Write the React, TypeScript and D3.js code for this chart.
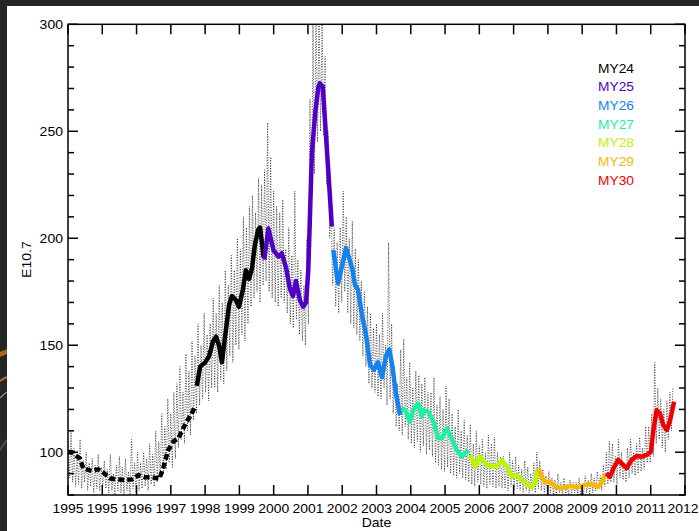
import React from "react";
import * as d3 from "d3";

const W = 699;
const H = 531;

// ---- axes ----
const xDomain = [1995, 2012];
const yDomain = [80, 300];
const xTickLabels = ["1995", "1995", "1996", "1997", "1998", "1999", "2000", "2001", "2002", "2003", "2004", "2005", "2006", "2007", "2008", "2009", "2010", "2011", "2012"];
const yMajorTicks = [100, 150, 200, 250, 300];
const yMinorStep = 10;

// ---- daily E10.7 (dotted), sampled every half month from 1995.0 ----
const dailyStart = 1995.0;
const dailyStep = 1 / 24;
const dailyFlux = [
  104, 88, 110, 86, 102, 84, 98, 85, 106, 83, 96, 86, 100, 82, 95, 84, 97, 81, 94, 83, 99, 82, 93, 84,
  96, 83, 92, 81, 99, 82, 90, 80, 94, 82, 98, 81, 93, 80, 97, 82, 91, 80, 106, 83, 95, 81, 100, 82,
  95, 83, 100, 84, 97, 82, 104, 85, 99, 84, 110, 86, 105, 88, 118, 90, 112, 92, 125, 95, 118, 93, 128, 97,
  132, 102, 140, 106, 128, 104, 146, 110, 138, 108, 152, 115, 145, 118, 160, 122, 150, 125, 165, 128, 155, 124, 160, 130,
  172, 130, 165, 128, 178, 134, 170, 132, 185, 138, 178, 145, 192, 142, 185, 150, 200, 148, 195, 155, 210, 152, 205, 160,
  215, 168, 220, 172, 212, 175, 228, 170, 225, 178, 232, 180, 254, 175, 238, 172, 222, 170, 215, 168, 212, 172, 218, 170,
  195, 165, 205, 160, 192, 158, 222, 162, 190, 155, 185, 152, 178, 150, 200, 160, 265, 205, 300, 230, 310, 245, 305, 250,
  302, 248, 285, 225, 250, 200, 215, 178, 205, 168, 198, 165, 205, 170, 222, 175, 210, 165, 200, 160, 208, 158, 195, 155,
  190, 152, 180, 145, 175, 140, 168, 132, 165, 130, 158, 128, 160, 126, 155, 125, 165, 130, 150, 122, 198, 125, 160, 118,
  140, 112, 132, 110, 148, 108, 153, 112, 135, 106, 142, 104, 130, 102, 138, 105, 136, 100, 132, 103, 135, 99, 128, 101,
  128, 98, 135, 95, 122, 94, 126, 92, 120, 91, 131, 93, 125, 90, 118, 89, 112, 88, 120, 90, 110, 88, 115, 87,
  108, 86, 113, 85, 104, 84, 110, 86, 103, 85, 106, 84, 100, 83, 108, 85, 104, 84, 107, 83, 100, 84, 98, 83,
  98, 83, 95, 82, 100, 84, 96, 82, 98, 83, 94, 82, 92, 81, 96, 82, 93, 81, 90, 82, 95, 81, 100, 83,
  96, 82, 92, 81, 89, 80, 91, 81, 88, 80, 87, 80, 90, 81, 86, 80, 88, 80, 85, 80, 87, 80, 86, 81,
  86, 80, 88, 80, 85, 80, 89, 81, 87, 80, 90, 81, 88, 82, 91, 83, 89, 82, 94, 84, 100, 85, 105, 86,
  104, 86, 98, 85, 106, 88, 100, 87, 95, 86, 102, 88, 106, 90, 100, 89, 104, 90, 107, 91, 102, 92, 112, 95,
  112, 95, 118, 98, 142, 104, 130, 106, 125, 102, 120, 100, 124, 106, 128, 110, 130,
];

// ---- smoothed E10.7 by Mars year: [decimal year, value] ----
const preMY24 = [
  [1995.0, 100], [1995.1, 100], [1995.33, 97], [1995.42, 92.5], [1995.65, 91.3], [1995.83, 92],
  [1995.97, 90.5], [1996.16, 87.8], [1996.34, 87.3], [1996.57, 87], [1996.76, 87.3], [1996.94, 89.3],
  [1997.12, 88.3], [1997.31, 88.3], [1997.52, 87.6], [1997.63, 93], [1997.76, 101], [1997.9, 105],
  [1998.04, 106.5], [1998.13, 109.6], [1998.27, 114.3], [1998.39, 117.4], [1998.5, 121.3],
];
const my24 = [
  [1998.55, 131], [1998.64, 140], [1998.78, 142], [1998.89, 145], [1999.0, 152], [1999.08, 154],
  [1999.16, 150], [1999.24, 142], [1999.35, 157], [1999.44, 169], [1999.52, 173], [1999.63, 171],
  [1999.71, 168], [1999.82, 176], [1999.9, 185], [1999.99, 181], [2000.07, 186], [2000.15, 197],
  [2000.24, 204], [2000.29, 205], [2000.35, 197], [2000.39, 191],
];
const my25 = [
  [2000.41, 190], [2000.52, 204.6], [2000.66, 194.5], [2000.8, 191.4], [2000.89, 193], [2001.01, 186],
  [2001.12, 176], [2001.2, 173], [2001.28, 180], [2001.39, 171], [2001.48, 168], [2001.56, 170],
  [2001.62, 185], [2001.72, 239.7], [2001.81, 258.4], [2001.9, 270.8], [2001.94, 272.4], [2002.02, 270.8],
  [2002.08, 255.3], [2002.17, 231.9], [2002.27, 205.4],
];
const my26 = [
  [2002.31, 194.5], [2002.44, 179], [2002.55, 187], [2002.66, 195.5], [2002.83, 186], [2002.91, 178],
  [2002.99, 176], [2003.1, 164], [2003.21, 155], [2003.32, 141], [2003.43, 138.5], [2003.54, 142],
  [2003.65, 135], [2003.76, 145], [2003.85, 148], [2003.93, 141], [2004.04, 127], [2004.15, 117.4],
];
const my27 = [
  [2004.19, 120.5], [2004.29, 119.7], [2004.42, 114.3], [2004.51, 119.7], [2004.65, 122.8], [2004.75, 116.6],
  [2004.79, 119.7], [2004.93, 118.9], [2005.07, 114.3], [2005.2, 106.5], [2005.3, 106.5], [2005.44, 111.2],
  [2005.57, 106.5], [2005.71, 101], [2005.85, 97.9], [2005.94, 99.5], [2006.03, 101],
];
const my28 = [
  [2006.08, 98.7], [2006.22, 93.2], [2006.35, 97.9], [2006.54, 94], [2006.72, 93.2], [2006.86, 94],
  [2006.95, 96.4], [2007.09, 93.2], [2007.23, 88.5], [2007.36, 89.3], [2007.46, 87.8], [2007.59, 85.5],
  [2007.78, 83.9], [2007.87, 85.5], [2007.93, 91.7],
];
const my29 = [
  [2007.96, 92.5], [2008.05, 88.5], [2008.14, 86.2], [2008.28, 86.2], [2008.42, 83.9], [2008.56, 83.1],
  [2008.74, 83.9], [2008.88, 84.2], [2009.02, 83.6], [2009.11, 83.9], [2009.25, 84.7], [2009.38, 85.1],
  [2009.48, 84.7], [2009.61, 83.9], [2009.71, 86.2], [2009.8, 89.3],
];
const my30 = [
  [2009.83, 90.1], [2009.93, 88.5], [2010.03, 92.5], [2010.16, 96.4], [2010.3, 94], [2010.39, 92.5],
  [2010.53, 96.4], [2010.67, 98.2], [2010.81, 97.9], [2010.95, 98.7], [2011.06, 100.2], [2011.13, 110.4],
  [2011.22, 119.7], [2011.31, 118.2], [2011.4, 112.7], [2011.5, 110.4], [2011.59, 115], [2011.7, 123.6],
];

const marsYearNames = ["MY24", "MY25", "MY26", "MY27", "MY28", "MY29", "MY30"];
const marsYearColors = ["#000000", "#4f00c4", "#1580f0", "#1ef0a0", "#bcf500", "#f8b800", "#f00000"];
const marsYearSeries = [my24, my25, my26, my27, my28, my29, my30];

// ---- layout ----
const plot = { left: 68, right: 685, top: 24.3, bottom: 495 };
const FONT = "'Liberation Sans', Arial, Helvetica, sans-serif";

function SText({ x, y, size, sx = 1.08, anchor = "middle", fill = "#000", rotate = 0, children }: any) {
  return (
    <text
      transform={`translate(${x},${y}) rotate(${rotate}) scale(${sx},1)`}
      fontFamily={FONT}
      fontSize={size}
      textAnchor={anchor}
      fill={fill}
    >
      {children}
    </text>
  );
}

export default function App() {
  const x = d3.scaleLinear().domain(xDomain).range([plot.left, plot.right]);
  const y = d3.scaleLinear().domain(yDomain).range([plot.bottom, plot.top]);

  const xTickVals = xTickLabels.map((_, i) => xDomain[0] + (i * (xDomain[1] - xDomain[0])) / (xTickLabels.length - 1));
  const yMinorTicks = d3.range(yDomain[0], yDomain[1] + 0.01, yMinorStep).filter((v) => !yMajorTicks.includes(v));

  const dailyLine = d3
    .line<number>()
    .x((_, i) => x(dailyStart + i * dailyStep))
    .y((v) => y(v));
  const pairLine = d3
    .line<number[]>()
    .x((d) => x(d[0]))
    .y((d) => y(d[1]));

  const majorLen = 10;
  const minorLen = 6;
  const labelHalf = 15;

  return (
    <svg width={W} height={H} style={{ position: "absolute", left: 0, top: 0, display: "block" }}>
      <rect x={0} y={0} width={W} height={H} fill="#262626" />
      <path d="M0,352 L7,349 L7,354 L0,357 Z" fill="#c8781e" opacity={0.8} />
      <path d="M0,381 Q4,378 7,377" stroke="#b07030" strokeWidth={2} fill="none" />
      <path d="M0,398 Q4,394 7,392" stroke="#8a8a8a" strokeWidth={1.5} fill="none" />
      <path d="M0,450 Q4,444 7,440" stroke="#555" strokeWidth={1.5} fill="none" />
      <rect x={7} y={6} width={W - 7} height={H - 6} fill="#ffffff" />

      <defs>
        <clipPath id="plotclip">
          <rect x={plot.left} y={plot.top} width={plot.right - plot.left} height={plot.bottom - plot.top} />
        </clipPath>
      </defs>

      <g clipPath="url(#plotclip)">
        <path d={dailyLine(dailyFlux) || ""} fill="none" stroke="#000" strokeWidth={0.7} strokeDasharray="1,1.6" />
        <path d={pairLine(preMY24) || ""} fill="none" stroke="#000" strokeWidth={4.5} strokeDasharray="6,3" />
        {marsYearSeries.map((s, i) => (
          <path key={i} d={pairLine(s) || ""} fill="none" stroke={marsYearColors[i]} strokeWidth={4.5} strokeLinejoin="round" />
        ))}
      </g>

      {/* frame */}
      <rect x={plot.left} y={plot.top} width={plot.right - plot.left} height={plot.bottom - plot.top} fill="none" stroke="#000" strokeWidth={1.5} />

      {/* x ticks */}
      {xTickVals.map((v, i) => (
        <g key={"xt" + i}>
          <line x1={x(v)} x2={x(v)} y1={plot.bottom} y2={plot.bottom - majorLen} stroke="#000" strokeWidth={1.5} />
          <line x1={x(v)} x2={x(v)} y1={plot.top} y2={plot.top + majorLen} stroke="#000" strokeWidth={1.5} />
          <SText x={Math.min(x(v), W - 1 - labelHalf)} y={513} size={13.5} sx={1.03}>{xTickLabels[i]}</SText>
        </g>
      ))}

      {/* y ticks */}
      {yMajorTicks.map((v) => (
        <g key={"ym" + v}>
          <line x1={plot.left} x2={plot.left + majorLen} y1={y(v)} y2={y(v)} stroke="#000" strokeWidth={1.5} />
          <line x1={plot.right} x2={plot.right - majorLen} y1={y(v)} y2={y(v)} stroke="#000" strokeWidth={1.5} />
          <SText x={plot.left - 5} y={y(v) + 4.8} size={13} anchor="end">{String(v)}</SText>
        </g>
      ))}
      {yMinorTicks.map((v) => (
        <g key={"yn" + v}>
          <line x1={plot.left} x2={plot.left + minorLen} y1={y(v)} y2={y(v)} stroke="#000" strokeWidth={1.5} />
          <line x1={plot.right} x2={plot.right - minorLen} y1={y(v)} y2={y(v)} stroke="#000" strokeWidth={1.5} />
        </g>
      ))}

      <SText x={(plot.left + plot.right) / 2} y={527} size={13}>Date</SText>
      <SText x={31} y={(plot.top + plot.bottom) / 2} size={13} rotate={-90}>E10.7</SText>

      {/* legend */}
      {marsYearNames.map((n, i) => (
        <SText key={n} x={598} y={72.5 + i * 18.67} size={13.5} sx={1.02} anchor="start" fill={marsYearColors[i]}>
          {n}
        </SText>
      ))}
    </svg>
  );
}
